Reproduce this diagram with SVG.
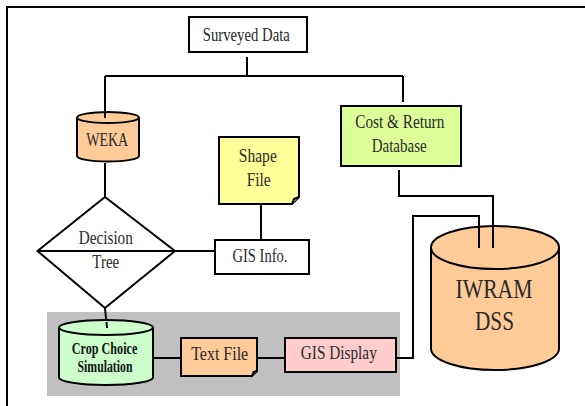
<svg xmlns="http://www.w3.org/2000/svg" width="585" height="406" viewBox="0 0 585 406" font-family="'Liberation Serif', 'DejaVu Serif', serif">
<style>
.s{stroke:#000;stroke-width:2;}
.ln{fill:none;stroke:#000;stroke-width:2;}
text{font-family:'Liberation Serif','DejaVu Serif',serif;font-size:18px;fill:#2a2a2a;text-anchor:middle;}
.b{font-weight:bold;font-size:17px;fill:#111;}
.big{font-size:27px;}
</style>
<rect x="0" y="0" width="585" height="406" fill="#fff"/>
<path class="ln" d="M7,406 V7 H585"/>
<rect id="gray-panel" x="47" y="312" width="353" height="84" fill="#c0c0c0"/>
<g id="connectors">
<path class="ln" d="M247,57 V76 M105,76 H403 M105,76 V118 M403,76 V102"/>
<path class="ln" d="M105,163 V197"/>
<path class="ln" d="M175,251 H215"/>
<path class="ln" d="M261,204 V240"/>
<path class="ln" d="M105,308 L107,328"/>
<path class="ln" d="M153,358 H181"/>
<path class="ln" d="M257,358 H285"/>
<path class="ln" d="M399,170 V196 H493 V248"/>
<path class="ln" d="M396,358 H413 V216 H479 V248"/>
</g>
<g id="surveyed-data">
<rect class="s" x="189" y="17" width="118" height="35" fill="#fff"/>
<text x="246.3" y="40.7" textLength="87" lengthAdjust="spacingAndGlyphs">Surveyed Data</text>
</g>
<g id="weka">
<path class="s" d="M77,117.5 V156 A31,5.5 0 0 0 139,156 V117.5" fill="#ffcc99"/>
<ellipse class="s" cx="108" cy="117.5" rx="31" ry="5.5" fill="#ffcc99"/>
<path class="ln" d="M105,76 V118"/>
<text x="107.2" y="145.7" textLength="42" lengthAdjust="spacingAndGlyphs">WEKA</text>
</g>
<g id="shape-file">
<path class="s" d="M219,137 H299 V197 L292,204 H219 Z" fill="#ffff99"/>
<path class="s" d="M292,204 L294,199 L299,197" fill="#cccc77" stroke-width="1.5"/>
<text x="257.8" y="161.7" textLength="38" lengthAdjust="spacingAndGlyphs">Shape</text>
<text x="258.7" y="185.7" textLength="24" lengthAdjust="spacingAndGlyphs">File</text>
</g>
<g id="cost-return">
<rect class="s" x="341" y="106" width="120" height="60" fill="#ddff99"/>
<text x="399.8" y="128" textLength="89" lengthAdjust="spacingAndGlyphs">Cost &amp; Return</text>
<text x="399.2" y="152" textLength="55" lengthAdjust="spacingAndGlyphs">Database</text>
</g>
<g id="decision-tree">
<path class="s" d="M105,197 L175,251 L105,308 L37.5,251 Z" fill="#fff"/>
<path class="ln" d="M37.5,251 H175"/>
<text x="105.8" y="244" textLength="54" lengthAdjust="spacingAndGlyphs">Decision</text>
<text x="105.8" y="267.7" textLength="27" lengthAdjust="spacingAndGlyphs">Tree</text>
</g>
<g id="gis-info">
<rect class="s" x="215" y="240" width="94" height="34" fill="#fff"/>
<text x="260" y="261.7" textLength="55" lengthAdjust="spacingAndGlyphs">GIS Info.</text>
</g>
<g id="iwram-dss">
<path class="s" d="M431,247.5 V348.5 A64,21.5 0 0 0 559,348.5 V247.5" fill="#ffcc99"/>
<ellipse class="s" cx="495" cy="247.5" rx="64" ry="21.5" fill="#ffcc99"/>
<path class="ln" d="M479,226 V248 M493,226 V248"/>
<text class="big" x="494" y="298" textLength="77" lengthAdjust="spacingAndGlyphs">IWRAM</text>
<text class="big" x="494.5" y="330" textLength="39" lengthAdjust="spacingAndGlyphs">DSS</text>
</g>
<g id="crop-choice">
<path class="s" d="M59,327.5 V377.5 A47,7.5 0 0 0 153,377.5 V327.5" fill="#ccffcc"/>
<ellipse class="s" cx="106" cy="327.5" rx="47" ry="7.5" fill="#ccffcc"/>
<path class="ln" d="M106.5,322 L107,328"/>
<text class="b" x="104.5" y="354" textLength="65.6" lengthAdjust="spacingAndGlyphs">Crop Choice</text>
<text class="b" x="105" y="371.5" textLength="55" lengthAdjust="spacingAndGlyphs">Simulation</text>
</g>
<g id="text-file">
<path class="s" d="M181,338 H257 V371 L252,376 H181 Z" fill="#ffcc99"/>
<path class="s" d="M252,376 L253.5,372 L257,371" fill="#cc9966" stroke-width="1.5"/>
<text x="219.7" y="360" textLength="57" lengthAdjust="spacingAndGlyphs">Text File</text>
</g>
<g id="gis-display">
<rect class="s" x="285" y="338" width="111" height="34" fill="#ffcccc"/>
<text x="338.8" y="359.3" textLength="76" lengthAdjust="spacingAndGlyphs">GIS Display</text>
</g>
</svg>
